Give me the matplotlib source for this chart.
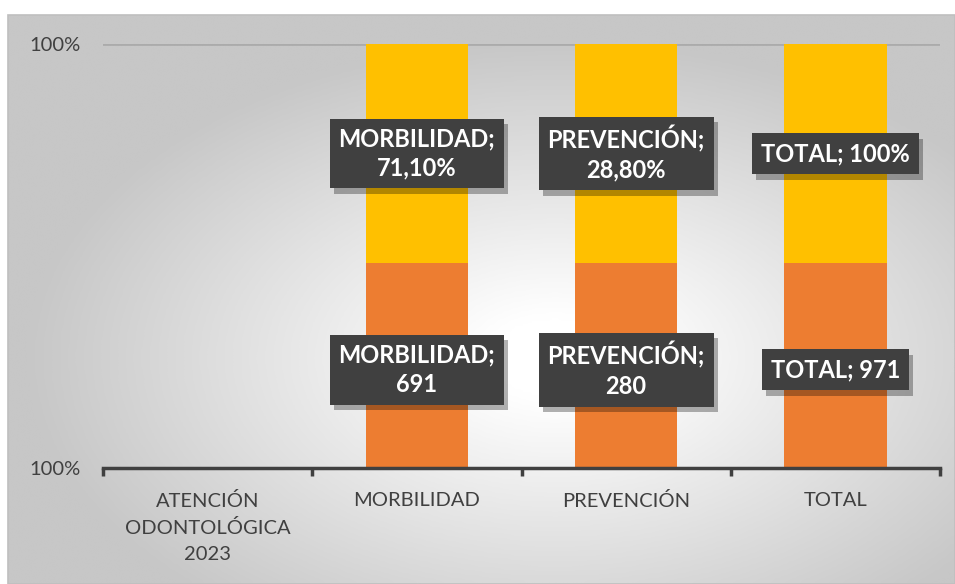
import numpy as np
import matplotlib.pyplot as plt
import matplotlib.patheffects as pe

plt.rcParams['font.family'] = ['Lato', 'DejaVu Sans']

categories = ['ATENCIÓN\nODONTOLÓGICA\n2023', 'MORBILIDAD', 'PREVENCIÓN', 'TOTAL']
# share of each bar as drawn
count_share = [0, 48.3, 48.3, 48.3]
pct_share = [0, 51.7, 51.7, 51.7]
count_labels = ['', 'MORBILIDAD;\n691', 'PREVENCIÓN;\n280', 'TOTAL; 971']
pct_labels = ['', 'MORBILIDAD;\n71,10%', 'PREVENCIÓN;\n28,80%', 'TOTAL; 100%']

orange = '#ED7D31'
yellow = '#FFC000'

fig = plt.figure(figsize=(9.55, 5.84), dpi=100)

# gradient chart background
bg = fig.add_axes([8 / 955, 0, 947 / 955, 569 / 584])
yy, xx = np.mgrid[0:200, 0:330]
d = np.hypot((xx - 190) / 330, (yy - 120) / 200)
img = np.clip(1.03 - d * 0.45, 0.78, 1.0)
bg.imshow(img, cmap='gray', vmin=0, vmax=1, aspect='auto', interpolation='bicubic')
bg.set_axis_off()
fig.patches.append(plt.Rectangle((8 / 955, 0), 947 / 955, 569 / 584, transform=fig.transFigure,
                                  fill=False, edgecolor='#bfbfbf', lw=1.2))

ax = fig.add_axes([103 / 955, 1 - 468 / 584, 837 / 955, 424 / 584])
ax.patch.set_alpha(0)
x = np.arange(len(categories))
frac_c = np.array(count_share) / 100
frac_p = np.array(pct_share) / 100
ax.bar(x, frac_c, width=0.49, color=orange, zorder=2)
ax.bar(x, frac_p, width=0.49, bottom=frac_c, color=yellow, zorder=2)

ax.set_xlim(-0.5, 3.5)
ax.set_ylim(0, 1)
ax.axhline(1, color='#ababab', lw=2, zorder=1)

for sp in ['top', 'right', 'left']:
    ax.spines[sp].set_visible(False)
ax.spines['bottom'].set_color('#404040')
ax.spines['bottom'].set_linewidth(2.5)

ax.set_xticks(x, categories, fontsize=14.5, color='#404040', linespacing=1.65)
ax.set_xticks(np.arange(-0.5, 4, 1), minor=True)
ax.tick_params(axis='x', which='major', length=0, pad=17)
ax.tick_params(axis='x', which='minor', length=6, width=2.5, color='#404040')
ax.set_yticks([0, 1], ['100%', '100%'], fontsize=14.5, color='#404040')
ax.tick_params(axis='y', length=0, pad=16)


def label(xi, yi, txt):
    t = ax.text(xi, yi, txt, color='white', ha='center', va='center', fontsize=17,
                fontweight='bold', linespacing=1.3, zorder=5,
                bbox=dict(boxstyle='square,pad=0.38', fc='#404040', ec='none'))
    t.get_bbox_patch().set_path_effects(
        [pe.SimplePatchShadow(offset=(3, -4), shadow_rgbFace='black', alpha=0.3), pe.Normal()])


for i in range(1, len(categories)):
    label(x[i], frac_c[i] * 0.48, count_labels[i])
    label(x[i], frac_c[i] + frac_p[i] * 0.5, pct_labels[i])

fig.savefig('out.png', dpi=100)
